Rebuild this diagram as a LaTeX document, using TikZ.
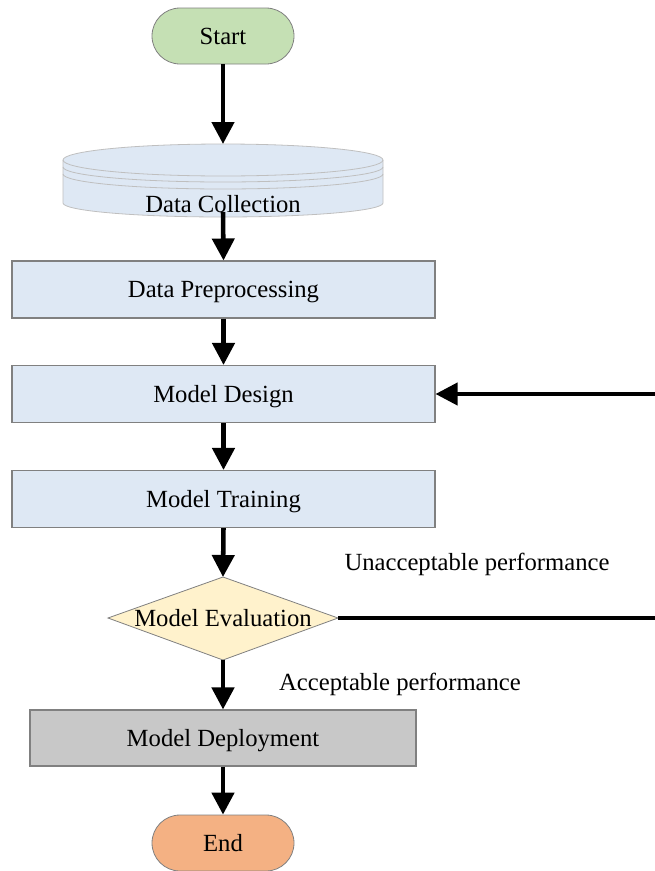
\documentclass[tikz,border=0pt]{standalone}
\usepackage{fontspec}
\setmainfont{Liberation Serif}
\usetikzlibrary{arrows.meta,shapes.misc}
\definecolor{startc}{HTML}{C5E0B4}
\definecolor{endc}{HTML}{F4B183}
\definecolor{boxc}{HTML}{DEE8F4}
\definecolor{diac}{HTML}{FFF2CC}
\definecolor{depc}{HTML}{C8C8C8}
\definecolor{bordc}{HTML}{808080}
\definecolor{cylb}{HTML}{BFBFBF}
\tikzset{
  lbl/.style={font=\fontsize{18.5}{21}\selectfont, text=black, text height=15pt, text depth=2.8pt},
  term/.style={lbl, rounded rectangle, draw=bordc, line width=0.6pt, minimum width=106.5pt, minimum height=42pt, inner sep=0pt},
  procbox/.style={lbl, rectangle, draw=bordc, line width=0.8pt, fill=boxc, minimum width=317.25pt, minimum height=42.75pt, inner sep=0pt},
  flow/.style={line width=3.4pt, -{Triangle[width=16.5pt,length=16.5pt]}},
  fbline/.style={line width=3pt},
}
\begin{document}
\begin{tikzpicture}[x=0.75pt,y=-0.75pt]
\useasboundingbox (0,0) rectangle (655,871);
% Start
\node[term, fill=startc] (start) at (223,36) {Start};
% Data collection cylinder (stacked disk)
\begin{scope}[draw=cylb, line width=0.6pt]
  \fill[boxc] (63,160) -- (63,203) arc[start angle=180,end angle=0,x radius=160,y radius=14] -- (383,160) arc[start angle=360,end angle=180,x radius=160,y radius=16] -- cycle;
  \draw (63,160) -- (63,203) arc[start angle=180,end angle=0,x radius=160,y radius=14] -- (383,160);
  \draw (223,160) ellipse[x radius=160, y radius=16];
  \draw (63,167) arc[start angle=180,end angle=0,x radius=160,y radius=15];
  \draw (63,174) arc[start angle=180,end angle=0,x radius=160,y radius=15];
\end{scope}
\coordinate (dctop) at (223,144);
\coordinate (dcbot) at (223,212);
\node[lbl] (dc) at (223,204) {Data Collection};
% Process boxes
\node[procbox] (prep) at (223.5,289.5) {Data Preprocessing};
\node[procbox] (design) at (223.5,394) {Model Design};
\node[procbox] (train) at (223.5,499) {Model Training};
% Evaluation diamond
\coordinate (evN) at (223,577);
\coordinate (evE) at (338,618);
\coordinate (evS) at (223,660);
\coordinate (evW) at (108,618);
\fill[diac] (evN) -- (evE) -- (evS) -- (evW) -- cycle;
\draw[bordc, line width=0.6pt] (evN) -- (evE) -- (evS) -- (evW) -- cycle;
\node[lbl] (eval) at (223,618) {Model Evaluation};
% Deployment
\node[procbox, fill=depc, minimum width=289.5pt, minimum height=42pt] (deploy) at (223,738) {Model Deployment};
% End
\node[term, fill=endc] (end) at (223,843) {End};
% Labels
\node[lbl] (unacc) at (477,562) {Unacceptable performance};
\node[lbl] (acc) at (400,682) {Acceptable performance};
% Arrows
\draw[flow] (start.south) -- (dctop);
\draw[flow] (dcbot) -- (prep.north);
\draw[flow] (prep.south) -- (design.north);
\draw[flow] (design.south) -- (train.north);
\draw[flow] (train.south) -- (evN);
\draw[flow] (evS) -- (deploy.north);
\draw[flow] (deploy.south) -- (end.north);
% Feedback
\coordinate (rt1) at (655,618);
\coordinate (rt2) at (655,394);
\draw[fbline] (evE) -- (rt1);
\draw[fbline, -{Triangle[width=16.5pt,length=16.5pt]}] (rt2) -- (design.east);
\end{tikzpicture}
\end{document}
